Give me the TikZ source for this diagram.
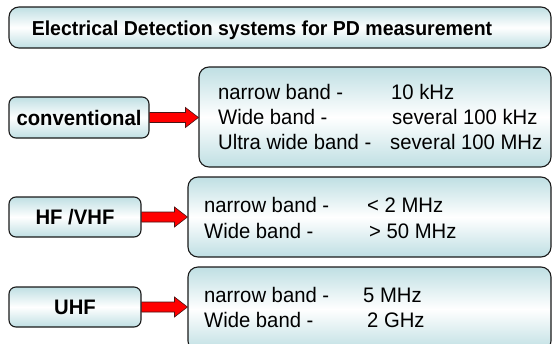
\documentclass[tikz,border=0pt]{standalone}
\usepackage{fontspec}
\setmainfont{Liberation Sans}[FakeStretch=0.965]
\usetikzlibrary{calc}
\definecolor{boxteal}{HTML}{BFDFE3}
\definecolor{edge}{HTML}{1A1A1A}
\tikzset{
  panel/.style={draw=edge, line width=1.1pt, rounded corners=10pt,
    top color=boxteal, bottom color=boxteal, middle color=white,
    inner sep=0pt},
  tag/.style={draw=edge, line width=1.1pt, rounded corners=7pt,
    top color=boxteal, bottom color=boxteal, middle color=white,
    inner sep=0pt, font=\fontsize{21}{25}\selectfont\bfseries},
  txt/.style={anchor=base west, inner sep=0pt, font=\fontsize{21}{25}\selectfont},
  redarrow/.style={fill=red, draw=edge!80!red, line width=0.6pt, line join=miter}
}
% fat outlined arrow from the east side of one node to the west side of another
\newcommand\fatarrow[2]{%
  \draw[redarrow] let \p1=(#1.east), \p2=(#2.west) in
    (\x1,\y1+5pt) -- (\x2-13pt,\y1+5pt) -- (\x2-13pt,\y1+10pt) -- (\x2,\y1)
    -- (\x2-13pt,\y1-10pt) -- (\x2-13pt,\y1-5pt) -- (\x1,\y1-5pt) -- cycle;}
\begin{document}
\begin{tikzpicture}[x=1pt,y=-1pt]
\useasboundingbox (0,0) rectangle (553,343);

% heading
\node[panel, minimum width=542pt, minimum height=41pt] (title) at (280,27.5) {};
\node[anchor=base, inner sep=0pt, font=\fontsize{20.2}{25}\selectfont\bfseries] (titletext) at (262,35)
  {Electrical Detection systems for PD measurement};

% left-hand categories
\node[tag, minimum width=140pt, minimum height=41pt] (conv) at (79,117.5) {conventional};
\node[tag, minimum width=132pt, minimum height=40pt] (hf) at (75,217) {HF /VHF};
\node[tag, minimum width=132pt, minimum height=40pt] (uhf) at (75,307) {UHF};

% right-hand detail panels
\node[panel, minimum width=352pt, minimum height=100pt] (b1) at (375,117) {};
\node[panel, minimum width=363pt, minimum height=80pt] (b2) at (369.5,217) {};
\node[panel, minimum width=363pt, minimum height=84pt] (b3) at (369.5,309) {};

% panel texts
\node[txt] (b1a) at (218,99) {narrow band -};
\node[txt] (b1b) at (218,124) {Wide band -};
\node[txt] (b1c) at (218,149) {Ultra wide band -};
\node[txt] (b1d) at (391,99) {10 kHz};
\node[txt] (b1e) at (392,124) {several 100 kHz};
\node[txt] (b1f) at (390,149) {several 100 MHz};

\node[txt] (b2a) at (204,212) {narrow band -};
\node[txt] (b2b) at (204,238) {Wide band -};
\node[txt] (b2c) at (367,212) {< 2 MHz};
\node[txt] (b2d) at (369,238) {> 50 MHz};

\node[txt] (b3a) at (204,302) {narrow band -};
\node[txt] (b3b) at (204,327) {Wide band -};
\node[txt] (b3c) at (363,302) {5 MHz};
\node[txt] (b3d) at (367,327) {2 GHz};

% connectors
\fatarrow{conv}{b1}
\fatarrow{hf}{b2}
\fatarrow{uhf}{b3}
\end{tikzpicture}
\end{document}
